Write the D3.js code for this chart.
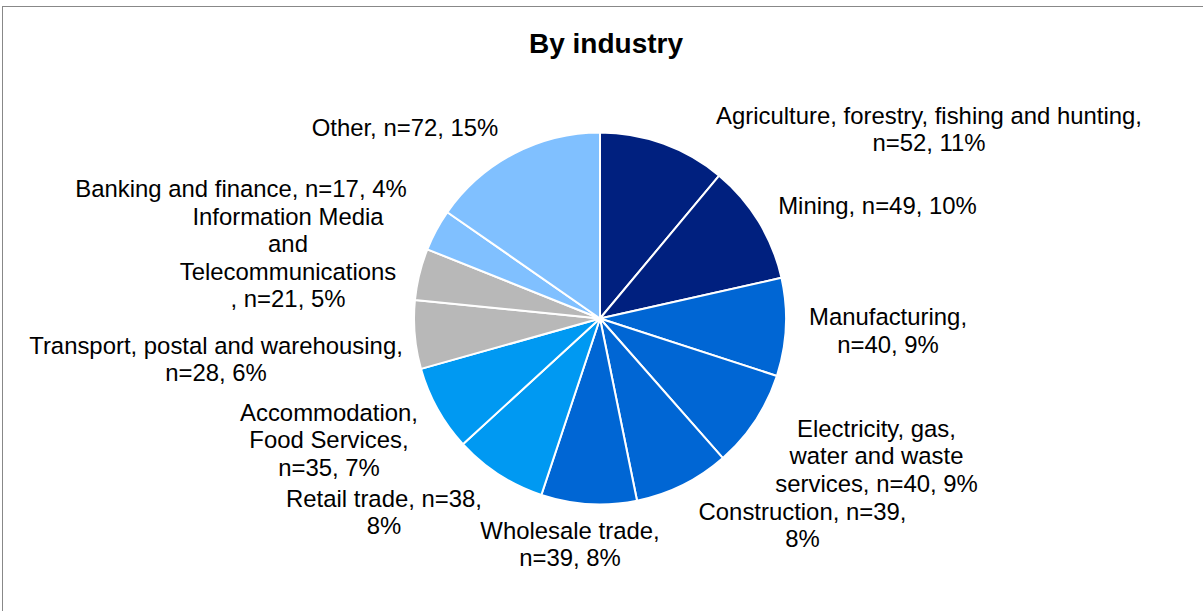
<!DOCTYPE html>
<html>
<head>
<meta charset="utf-8">
<script src="https://cdn.jsdelivr.net/npm/d3@7"></script>
<style>
  html, body { margin: 0; padding: 0; background: #fff; }
  svg { display: block; }
</style>
</head>
<body>
<svg id="chart" width="1203" height="611"></svg>
<script>
// ---- data ----
const title = "By industry";
const categories = [
  "Agriculture, forestry, fishing and hunting",
  "Mining",
  "Manufacturing",
  "Electricity, gas, water and waste services",
  "Construction",
  "Wholesale trade",
  "Retail trade",
  "Accommodation, Food Services",
  "Transport, postal and warehousing",
  "Information Media and Telecommunications",
  "Banking and finance",
  "Other"
];
const counts = [52, 49, 40, 40, 39, 39, 38, 35, 28, 21, 17, 72];
const percents = [11, 10, 9, 9, 8, 8, 8, 7, 6, 5, 4, 15];
// label lines as they wrap in the reference
const labelLines = [
  ["Agriculture, forestry, fishing and hunting,", "n=52, 11%"],
  ["Mining, n=49, 10%"],
  ["Manufacturing,", "n=40, 9%"],
  ["Electricity, gas,", "water and waste", "services, n=40, 9%"],
  ["Construction, n=39,", "8%"],
  ["Wholesale trade,", "n=39, 8%"],
  ["Retail trade, n=38,", "8%"],
  ["Accommodation,", "Food Services,", "n=35, 7%"],
  ["Transport, postal and warehousing,", "n=28, 6%"],
  ["Information Media", "and", "Telecommunications", ", n=21, 5%"],
  ["Banking and finance, n=17, 4%"],
  ["Other, n=72, 15%"]
];

// ---- styles / layout (kept separate from data) ----
const colors = ["#00207F", "#00207F", "#0066D4", "#0066D4", "#0066D4", "#0066D4",
                "#0099F2", "#0099F2", "#B8B8B8", "#B8B8B8", "#80C0FF", "#80C0FF"];
const cx = 600, cy = 318.5, radius = 186;
const lineH = 27.6;
// first-baseline position of each label, relative to pie centre
const labelOffset = [
  [329, -195], [277.5, -105], [288, 6.5], [276.5, 118], [202.5, 201],
  [-30, 220], [-216, 188], [-271, 102], [-384, 35], [-312, -94],
  [-359, -122], [-195, -183]
];

const svg = d3.select("#chart");

// outer border
svg.append("rect")
  .attr("x", 2.5).attr("y", 6.5)
  .attr("width", 1220).attr("height", 640)
  .attr("fill", "none").attr("stroke", "#888").attr("stroke-width", 1);

// title
svg.append("text")
  .attr("x", 606).attr("y", 53)
  .attr("text-anchor", "middle")
  .attr("font-family", "Liberation Sans, Arial, sans-serif")
  .attr("font-weight", "bold")
  .attr("font-size", "28px")
  .attr("fill", "#000")
  .text(title);

const data = categories.map((c, i) => ({ name: c, n: counts[i], pct: percents[i], i }));

const pie = d3.pie().value(d => d.n).sort(null).startAngle(0).endAngle(2 * Math.PI);
const arc = d3.arc().innerRadius(0).outerRadius(radius);

const g = svg.append("g").attr("transform", `translate(${cx},${cy})`);

g.selectAll("path.slice")
  .data(pie(data))
  .join("path")
  .attr("class", "slice")
  .attr("d", arc)
  .attr("fill", d => colors[d.data.i])
  .attr("stroke", "#fff")
  .attr("stroke-width", 2)
  .attr("stroke-linejoin", "round");

const labels = g.selectAll("text.lbl")
  .data(pie(data))
  .join("text")
  .attr("class", "lbl")
  .attr("text-anchor", "middle")
  .attr("font-family", "Liberation Sans, Arial, sans-serif")
  .attr("font-size", "23.9px")
  .attr("fill", "#000")
  .attr("transform", d => `translate(${labelOffset[d.data.i][0]},${labelOffset[d.data.i][1]})`);

labels.each(function(d) {
  const t = d3.select(this);
  labelLines[d.data.i].forEach((ln, k) => {
    t.append("tspan").attr("x", 0).attr("y", k * lineH).text(ln);
  });
});
</script>
</body>
</html>
